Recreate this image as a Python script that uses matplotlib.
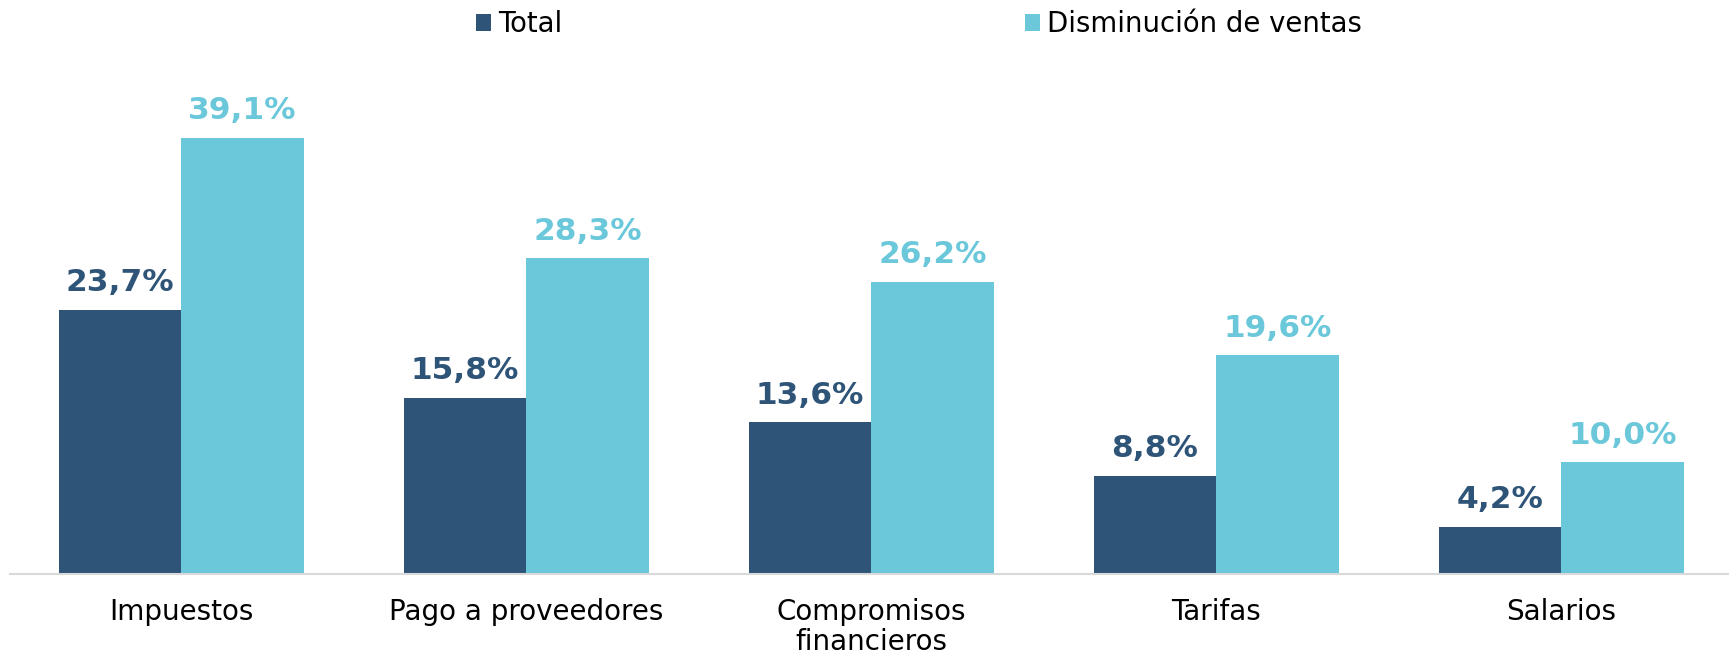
import matplotlib.pyplot as plt
import numpy as np

# datos
categorias = ['Impuestos', 'Pago a proveedores', 'Compromisos\nfinancieros', 'Tarifas', 'Salarios']
total = [23.7, 15.8, 13.6, 8.8, 4.2]
disminucion = [39.1, 28.3, 26.2, 19.6, 10.0]

color_total = '#2E5478'
color_dism = '#6AC8DA'

plt.rcParams['font.family'] = 'DejaVu Sans'

fig = plt.figure(figsize=(17.29, 6.63), dpi=100)
ax = fig.add_axes([10 / 1729, 89 / 663, 1 - 10 / 1729, 513 / 663])

x = np.arange(len(categorias))
w = 0.355
b1 = ax.bar(x - w / 2, total, w, color=color_total, label='Total')
b2 = ax.bar(x + w / 2, disminucion, w, color=color_dism, label='Disminución de ventas')

# etiquetas de valores
for bars, vals, c in [(b1, total, color_total), (b2, disminucion, color_dism)]:
    for r, v in zip(bars, vals):
        ax.annotate(f'{v:.1f}%'.replace('.', ','), (r.get_x() + r.get_width() / 2, v),
                    xytext=(0, 13.5), textcoords='offset points', ha='center', va='baseline',
                    fontsize=22.5, fontweight='bold', color=c)

ax.set_xlim(-0.496, 4.486)
ax.set_ylim(0, 46)
ax.set_yticks([])
ax.set_xticks(x)
ax.set_xticklabels(categorias, fontsize=20, linespacing=1.1)
ax.tick_params(axis='x', length=0, pad=17)
for s in ['top', 'right', 'left']:
    ax.spines[s].set_visible(False)
ax.spines['bottom'].set_color('#D9D9D9')
ax.spines['bottom'].set_linewidth(1.5)

fig.legend(loc='center', bbox_to_anchor=(919 / 1729, 1 - 24 / 663), ncol=2, frameon=False,
           fontsize=19.8, handlelength=0.55, handleheight=0.6, handletextpad=0.26,
           columnspacing=16.8)

plt.savefig('out.png', dpi=100)
